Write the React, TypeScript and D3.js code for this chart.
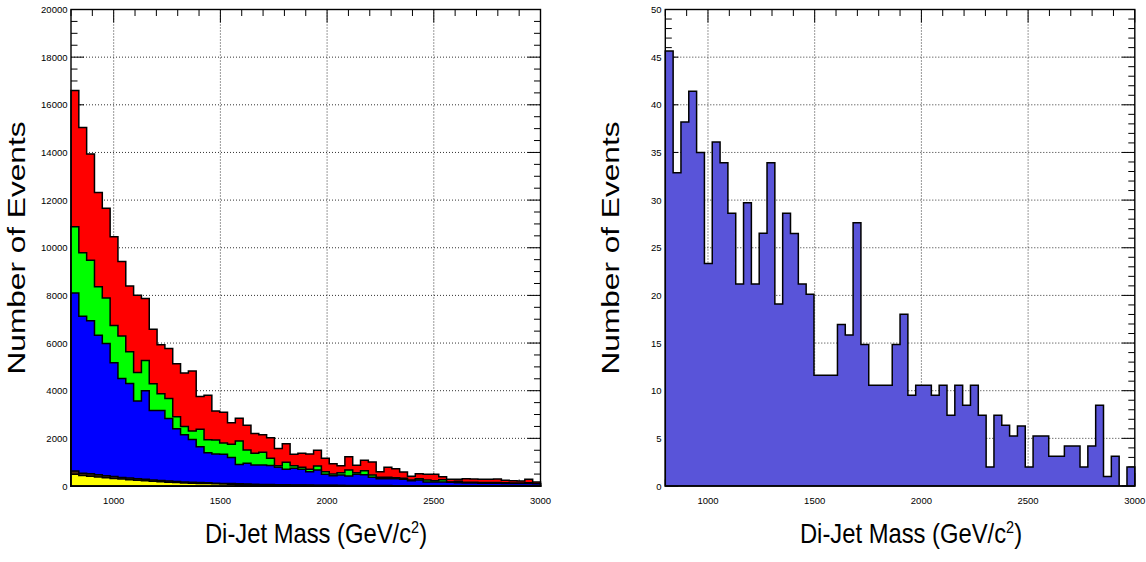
import React from 'react';
import * as d3 from 'd3';

// ---------- axis structure ----------
const X_MIN = 800;
const X_MAX = 3000;
const N_BINS = 60;
const xTickLabels = [1000, 1500, 2000, 2500, 3000];
const leftYTickLabels = [0, 2000, 4000, 6000, 8000, 10000, 12000, 14000, 16000, 18000, 20000];
const rightYTickLabels = [0, 5, 10, 15, 20, 25, 30, 35, 40, 45, 50];

// ---------- left: stacked backgrounds (per-component counts per bin) ----------
const leftYellow = [490, 440, 410, 380, 350, 320, 290, 265, 240, 220, 200, 180, 160, 145, 130, 120, 110, 100, 90, 80,
  72, 65, 58, 52, 46, 42, 38, 34, 30, 27, 24, 22, 20, 18, 16, 14, 13, 12, 11, 10,
  9, 8, 8, 7, 7, 6, 6, 5, 5, 5, 4, 4, 4, 3, 3, 3, 3, 2, 2, 2];
const leftDark = [140, 90, 100, 90, 80, 80, 70, 70, 60, 60, 55, 50, 50, 45, 40, 40, 35, 35, 30, 30,
  28, 26, 24, 22, 20, 20, 18, 16, 15, 14, 13, 12, 11, 10, 10, 9, 9, 8, 8, 7,
  7, 6, 6, 6, 5, 5, 5, 5, 4, 4, 4, 4, 3, 3, 3, 3, 3, 3, 3, 3];
const leftBlue = [7470, 6600, 6430, 5860, 5550, 4770, 4155, 3970, 3270, 3717, 2915, 2940, 2628, 2210, 1980, 1790, 1505, 1265, 1220, 1220,
  1100, 809, 868, 807, 814, 798, 727, 649, 696, 658, 564, 637, 458, 405, 435, 396, 467, 450, 344, 290,
  291, 293, 266, 211, 240, 157, 157, 158, 145, 131, 122, 122, 113, 113, 109, 104, 94, 95, 105, 85];
const leftGreen = [2780, 2660, 2536, 2028, 1910, 1570, 1785, 1325, 1190, 1273, 1120, 700, 838, 507, 350, 360, 730, 540, 590, 470,
  550, 987, 560, 489, 540, 300, 67, 301, 109, 84, 98, 168, 112, 70, 98, 252, 70, 173, 98, 56,
  56, 42, 41, 28, 55, 84, 56, 98, 14, 56, 24, 30, 30, 30, 35, 30, 30, 30, 30, 20];
const leftRed = [5720, 5260, 4454, 3962, 3770, 3720, 3120, 2760, 3250, 2600, 2290, 2060, 2094, 2223, 2240, 2520, 1380, 1870, 1220, 1300,
  910, 953, 1040, 830, 730, 870, 720, 775, 485, 587, 641, 657, 559, 433, 293, 559, 307, 433, 545, 238,
  419, 378, 266, 153, 210, 237, 265, 125, 112, 84, 154, 134, 130, 130, 144, 98, 94, 80, 140, 58];

// ---------- right: single histogram ----------
const rightValues = [45.65, 32.87, 38.19, 41.42, 35.0, 23.35, 36.09, 33.92, 28.63, 21.2,
  29.72, 21.2, 26.53, 33.92, 19.1, 28.63, 26.5, 21.2, 20.13, 11.62,
  11.62, 11.62, 16.94, 15.85, 27.62, 14.84, 10.57, 10.57, 10.57, 14.84,
  18.03, 9.52, 10.57, 10.57, 9.52, 10.57, 7.42, 10.57, 8.47, 10.57,
  7.42, 1.99, 7.42, 6.37, 5.25, 6.3, 1.99, 5.25, 5.25, 3.11,
  3.11, 4.2, 4.2, 2.0, 4.2, 8.47, 1.01, 3.11, 0, 2.0];

const stackKeys = ['yellow', 'dark', 'blue', 'green', 'red'];
const stackColors: Record<string, string> = {
  yellow: '#ffff00', dark: '#4a2c10', blue: '#0000ff', green: '#00ff00', red: '#ff0000',
};

const FONT = "'Liberation Sans', Arial, Helvetica, sans-serif";
const W = 1146;
const H = 562;
const TOP = 9.5;
const BOTTOM = 486;

const edges = d3.range(N_BINS + 1).map((i) => X_MIN + (i * (X_MAX - X_MIN)) / N_BINS);

type PanelProps = {
  x0: number;
  x1: number;
  yMax: number;
  yMinor: number;
  yMajor: number;
  yLabels: number[];
  yLabelRight: number;
  yTitleX: number;
  xTitleX: number;
  children: (x: d3.ScaleLinear<number, number>, y: d3.ScaleLinear<number, number>) => React.ReactNode;
};

function Panel({ x0, x1, yMax, yMinor, yMajor, yLabels, yLabelRight, yTitleX, xTitleX, children }: PanelProps) {
  const x = d3.scaleLinear().domain([X_MIN, X_MAX]).range([x0, x1]);
  const y = d3.scaleLinear().domain([0, yMax]).range([BOTTOM, TOP]);
  const xMinorTicks = d3.range(X_MIN, X_MAX + 1, 100);
  const yTicks = d3.range(0, yMax + yMinor / 2, yMinor);
  const gridX = xTickLabels.filter((v) => v < X_MAX);
  const gridY = yLabels.filter((v) => v > 0 && v < yMax);
  const MAJ = 13;
  const MIN = 6.5;
  return (
    <g>
      {/* grid */}
      {gridX.map((v) => (
        <line key={'gx' + v} x1={x(v)} x2={x(v)} y1={TOP} y2={BOTTOM} stroke="#333" strokeWidth={1} strokeDasharray="1 2" />
      ))}
      {gridY.map((v) => (
        <line key={'gy' + v} x1={x0} x2={x1} y1={y(v)} y2={y(v)} stroke="#333" strokeWidth={1} strokeDasharray="1 2" />
      ))}
      {/* ticks */}
      {xMinorTicks.map((v) => {
        const len = v % 500 === 0 ? MAJ : MIN;
        return (
          <g key={'tx' + v}>
            <line x1={x(v)} x2={x(v)} y1={TOP} y2={TOP + len} stroke="#000" strokeWidth={1} />
            <line x1={x(v)} x2={x(v)} y1={BOTTOM} y2={BOTTOM - len} stroke="#000" strokeWidth={1} />
          </g>
        );
      })}
      {yTicks.map((v) => {
        const len = Math.abs(v % yMajor) < 1e-6 ? MAJ : MIN;
        return (
          <g key={'ty' + v}>
            <line x1={x0} x2={x0 + len} y1={y(v)} y2={y(v)} stroke="#000" strokeWidth={1} />
            <line x1={x1} x2={x1 - len} y1={y(v)} y2={y(v)} stroke="#000" strokeWidth={1} />
          </g>
        );
      })}
      {children(x, y)}
      {/* frame */}
      <rect x={x0} y={TOP} width={x1 - x0} height={BOTTOM - TOP} fill="none" stroke="#000" strokeWidth={1.4} />
      {/* tick labels */}
      {xTickLabels.map((v) => (
        <text key={'lx' + v} x={x(v)} y={504} textAnchor="middle" fontFamily={FONT} fontSize={9.5} fill="#000">
          {v}
        </text>
      ))}
      {yLabels.map((v) => (
        <text key={'ly' + v} x={yLabelRight} y={y(v) + 3.5} textAnchor="end" fontFamily={FONT} fontSize={9.5} fill="#000">
          {v}
        </text>
      ))}
      {/* titles */}
      <g transform={`translate(${xTitleX},543) scale(0.85,1)`}>
        <text x={0} y={0} textAnchor="middle" fontFamily={FONT} fontSize={28} fill="#000">
          Di-Jet Mass (GeV/c
          <tspan dy={-10} fontSize={17}>2</tspan>
          <tspan dy={10}>)</tspan>
        </text>
      </g>
      <g transform={`translate(${yTitleX},248) rotate(-90)`}>
        <text x={0} y={0} textAnchor="middle" fontFamily={FONT} fontSize={23.5} fill="#000" textLength={253} lengthAdjust="spacingAndGlyphs">
          Number of Events
        </text>
      </g>
    </g>
  );
}

function stepArea(x: d3.ScaleLinear<number, number>, y: d3.ScaleLinear<number, number>, tops: number[]) {
  const pts: [number, number][] = tops.map((v, i) => [edges[i], v]);
  pts.push([edges[N_BINS], tops[N_BINS - 1]]);
  const area = d3
    .area<[number, number]>()
    .curve(d3.curveStepAfter)
    .x((d) => x(d[0]))
    .y0(y(0))
    .y1((d) => y(d[1]));
  return area(pts) || '';
}

export default function App() {
  const table = d3.range(N_BINS).map((i) => ({
    yellow: leftYellow[i],
    dark: leftDark[i],
    blue: leftBlue[i],
    green: leftGreen[i],
    red: leftRed[i],
  }));
  const stacked = d3.stack<any>().keys(stackKeys)(table);

  return (
    <svg width={W} height={H} style={{ position: 'absolute', left: 0, top: 0, background: '#fff' }}>
      <rect x={0} y={0} width={W} height={H} fill="#fff" />
      <Panel
        x0={71}
        x1={540.5}
        yMax={20000}
        yMinor={500}
        yMajor={2000}
        yLabels={leftYTickLabels}
        yLabelRight={67.5}
        yTitleX={25}
        xTitleX={316}
      >
        {(x, y) =>
          stacked
            .slice()
            .reverse()
            .map((layer) => (
              <path
                key={layer.key}
                d={stepArea(x, y, layer.map((d) => d[1]))}
                fill={stackColors[layer.key]}
                stroke="#000"
                strokeWidth={1.5}
                strokeLinejoin="miter"
              />
            ))
        }
      </Panel>
      <Panel
        x0={665.3}
        x1={1134.8}
        yMax={50}
        yMinor={1}
        yMajor={5}
        yLabels={rightYTickLabels}
        yLabelRight={661.5}
        yTitleX={619}
        xTitleX={911}
      >
        {(x, y) => (
          <path d={stepArea(x, y, rightValues)} fill="#5954d9" stroke="#000" strokeWidth={1.5} />
        )}
      </Panel>
    </svg>
  );
}
